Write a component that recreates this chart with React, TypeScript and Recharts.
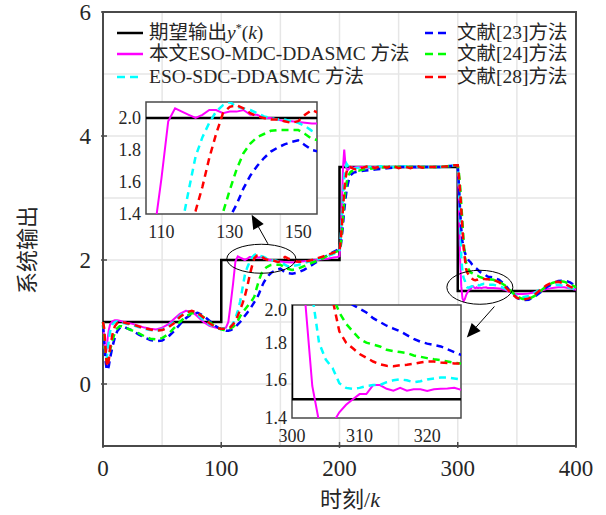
import React from 'react';
import { LineChart, Line, XAxis, YAxis, CartesianGrid, ReferenceArea, ReferenceDot, ReferenceLine } from 'recharts';

// sample instants k
const kSteps = [
  0, 1, 2, 3, 4, 5, 6, 8, 10, 12, 14, 16, 18, 20, 25, 30, 35, 40, 45, 50, 55, 60, 65, 70, 75, 80, 85, 90, 95, 98, 100,
  102, 104, 106, 108, 110, 112, 114, 116, 118, 120, 122, 124, 126, 128, 130, 132, 134, 136, 138, 140, 142, 144, 146, 148, 150, 152, 154, 156,
  160, 165, 170, 175, 180, 185, 190, 195, 198, 200,
  201, 202, 203, 204, 205, 206, 207, 208, 209, 210, 212, 214, 216, 218, 220, 225, 230, 235, 240, 245, 250, 255, 260, 265, 270, 275, 280, 285, 290, 295, 298, 300,
  301, 302, 303, 304, 305, 306, 307, 308, 309, 310, 311, 312, 313, 314, 315, 316, 317, 318, 319, 320, 321, 322, 323, 324, 325, 326,
  330, 335, 340, 345, 350, 355, 360, 365, 370, 375, 380, 385, 390, 395, 400,
];

// desired output y*(k), piecewise constant
const desiredK = [0, 100, 200, 300, 400];
const desiredY = [1, 2, 3.5, 1.5, 1.5];

// 本文 ESO-MDC-DDASMC
const mdcOut = [
  1.0, 0.75, 0.45, 0.55, 0.75, 0.88, 0.96, 1.01, 1.03, 1.03, 1.02, 1.01, 1.0, 0.99, 0.97, 0.94, 0.91, 0.89, 0.88, 0.91, 0.96, 1.05, 1.13, 1.18, 1.17, 1.09, 1.0, 0.94, 0.91, 0.9, 0.9,
  0.9, 0.91, 1.0, 1.3, 1.62, 1.98, 2.06, 2.04, 2.02, 2.0, 2.02, 2.05, 2.05, 2.03, 2.04, 2.04, 2.05, 2.02, 2.02, 2.0, 2.0, 1.99, 1.98, 1.98, 1.975, 1.97, 1.965, 1.965,
  1.96, 1.97, 1.98, 1.99, 2.0, 2.01, 2.02, 2.04, 2.05, 2.06,
  2.3, 2.9, 3.5, 3.78, 3.55, 3.47, 3.45, 3.47, 3.5, 3.5, 3.49, 3.5, 3.5, 3.5, 3.5, 3.49, 3.5, 3.5, 3.5, 3.5, 3.5, 3.5, 3.5, 3.49, 3.5, 3.5, 3.5, 3.5, 3.51, 3.52, 3.53, 3.52,
  2.9, 2.0, 1.57, 1.38, 1.34, 1.37, 1.43, 1.47, 1.5, 1.527, 1.527, 1.575, 1.575, 1.555, 1.545, 1.56, 1.545, 1.553, 1.553, 1.544, 1.553, 1.555, 1.557, 1.56, 1.55, 1.55,
  1.55, 1.54, 1.52, 1.48, 1.45, 1.45, 1.46, 1.48, 1.5, 1.53, 1.55, 1.56, 1.56, 1.54, 1.52,
];

// ESO-SDC-DDASMC
const sdcOut = [
  1.0, 0.8, 0.5, 0.4, 0.55, 0.72, 0.85, 0.96, 1.0, 1.01, 1.0, 0.99, 0.98, 0.97, 0.95, 0.92, 0.89, 0.87, 0.86, 0.88, 0.93, 1.0, 1.1, 1.16, 1.17, 1.12, 1.03, 0.96, 0.92, 0.9, 0.9,
  0.9, 0.9, 0.91, 0.93, 0.98, 1.06, 1.18, 1.33, 1.55, 1.76, 1.88, 1.97, 2.04, 2.08, 2.1, 2.07, 2.06, 2.05, 2.03, 2.01, 2.0, 1.99, 1.99, 1.98, 1.97, 1.95, 1.92, 1.9,
  1.9, 1.92, 1.95, 1.98, 2.0, 2.03, 2.06, 2.1, 2.12, 2.14,
  2.35, 2.7, 3.05, 3.32, 3.48, 3.55, 3.52, 3.5, 3.48, 3.47, 3.47, 3.48, 3.49, 3.5, 3.5, 3.5, 3.5, 3.51, 3.5, 3.5, 3.5, 3.51, 3.5, 3.5, 3.5, 3.5, 3.5, 3.5, 3.51, 3.52, 3.53, 3.53,
  3.2, 2.6, 2.05, 1.8, 1.71, 1.665, 1.585, 1.56, 1.555, 1.56, 1.57, 1.575, 1.575, 1.59, 1.6, 1.605, 1.6, 1.59, 1.595, 1.605, 1.61, 1.615, 1.615, 1.61, 1.605, 1.6,
  1.6, 1.58, 1.54, 1.48, 1.42, 1.4, 1.42, 1.47, 1.53, 1.57, 1.59, 1.6, 1.58, 1.55, 1.52,
];

// 文献[23]
const ref23Out = [
  0.95, 0.7, 0.4, 0.25, 0.22, 0.3, 0.42, 0.6, 0.75, 0.85, 0.9, 0.92, 0.92, 0.9, 0.86, 0.8, 0.75, 0.71, 0.69, 0.7, 0.76, 0.85, 0.96, 1.06, 1.13, 1.15, 1.1, 1.02, 0.94, 0.9, 0.88,
  0.87, 0.86, 0.86, 0.87, 0.89, 0.92, 0.96, 1.0, 1.05, 1.1, 1.15, 1.2, 1.26, 1.32, 1.38, 1.46, 1.56, 1.64, 1.7, 1.75, 1.79, 1.815, 1.835, 1.85, 1.86, 1.83, 1.8, 1.79,
  1.78, 1.8, 1.84, 1.9, 1.96, 2.02, 2.08, 2.13, 2.16, 2.18,
  2.22, 2.38, 2.58, 2.8, 2.98, 3.12, 3.22, 3.3, 3.35, 3.38, 3.41, 3.42, 3.43, 3.43, 3.44, 3.45, 3.46, 3.47, 3.48, 3.49, 3.5, 3.5, 3.5, 3.5, 3.5, 3.5, 3.5, 3.5, 3.51, 3.52, 3.53, 3.53,
  3.2, 2.8, 2.5, 2.3, 2.2, 2.12, 2.07, 2.03, 2.0, 1.98, 1.96, 1.93, 1.91, 1.89, 1.875, 1.86, 1.84, 1.82, 1.805, 1.795, 1.788, 1.78, 1.765, 1.75, 1.735, 1.73,
  1.72, 1.68, 1.6, 1.48, 1.39, 1.35, 1.36, 1.41, 1.48, 1.56, 1.62, 1.66, 1.67, 1.64, 1.58,
];

// 文献[24]
const ref24Out = [
  1.0, 0.8, 0.5, 0.38, 0.38, 0.45, 0.55, 0.7, 0.83, 0.9, 0.93, 0.93, 0.92, 0.9, 0.86, 0.82, 0.77, 0.73, 0.72, 0.74, 0.8, 0.9, 1.0, 1.09, 1.14, 1.14, 1.08, 1.0, 0.93, 0.9, 0.88,
  0.87, 0.87, 0.88, 0.9, 0.92, 0.96, 1.02, 1.09, 1.15, 1.2, 1.25, 1.3, 1.35, 1.41, 1.55, 1.68, 1.78, 1.84, 1.88, 1.9, 1.92, 1.925, 1.925, 1.925, 1.925, 1.9, 1.87, 1.86,
  1.84, 1.86, 1.9, 1.94, 1.98, 2.02, 2.07, 2.12, 2.14, 2.16,
  2.25, 2.45, 2.7, 2.95, 3.12, 3.25, 3.33, 3.38, 3.41, 3.43, 3.44, 3.44, 3.44, 3.45, 3.46, 3.47, 3.48, 3.49, 3.5, 3.5, 3.5, 3.5, 3.5, 3.5, 3.5, 3.5, 3.5, 3.5, 3.51, 3.52, 3.53, 3.53,
  3.4, 3.2, 2.9, 2.6, 2.3, 2.05, 1.96, 1.9, 1.86, 1.82, 1.8, 1.79, 1.78, 1.762, 1.755, 1.75, 1.745, 1.732, 1.725, 1.718, 1.712, 1.707, 1.7, 1.693, 1.69, 1.688,
  1.68, 1.65, 1.59, 1.5, 1.41, 1.37, 1.37, 1.42, 1.5, 1.58, 1.63, 1.66, 1.65, 1.61, 1.56,
];

// 文献[28]
const ref28Out = [
  1.0, 0.9, 0.6, 0.35, 0.28, 0.4, 0.58, 0.8, 0.93, 0.98, 1.0, 1.0, 0.99, 0.98, 0.96, 0.93, 0.9, 0.88, 0.86, 0.87, 0.91, 0.98, 1.08, 1.15, 1.18, 1.15, 1.07, 0.98, 0.92, 0.9, 0.89,
  0.89, 0.89, 0.9, 0.92, 0.96, 1.02, 1.1, 1.2, 1.3, 1.42, 1.57, 1.75, 1.9, 2.03, 2.07, 2.08, 2.06, 2.03, 2.01, 2.0, 1.99, 1.99, 1.98, 1.97, 1.98, 2.02, 2.05, 2.03,
  2.0, 1.97, 1.97, 1.99, 2.02, 2.05, 2.08, 2.12, 2.14, 2.16,
  2.3, 2.55, 2.85, 3.1, 3.3, 3.42, 3.48, 3.5, 3.5, 3.49, 3.47, 3.46, 3.47, 3.48, 3.49, 3.52, 3.48, 3.52, 3.49, 3.52, 3.48, 3.51, 3.48, 3.52, 3.49, 3.5, 3.5, 3.5, 3.51, 3.52, 3.53, 3.53,
  3.35, 3.1, 2.8, 2.5, 2.2, 2.03, 1.86, 1.8, 1.77, 1.74, 1.72, 1.7, 1.685, 1.677, 1.675, 1.68, 1.683, 1.688, 1.695, 1.7, 1.7, 1.695, 1.692, 1.69, 1.69, 1.69,
  1.68, 1.64, 1.57, 1.47, 1.39, 1.36, 1.38, 1.44, 1.52, 1.59, 1.64, 1.65, 1.62, 1.57, 1.53,
];

const xTicks = [0, 100, 200, 300, 400];
const yTicks = [0, 2, 4, 6];
const xGrid = [0, 50, 100, 150, 200, 250, 300, 350, 400];
const yGrid = [-1, 0, 1, 2, 3, 4, 5, 6];

const rows = kSteps.map((k, i) => ({
  k,
  mdc: mdcOut[i],
  sdc: sdcOut[i],
  r23: ref23Out[i],
  r24: ref24Out[i],
  r28: ref28Out[i],
}));
const desiredRows = desiredK.map((k, i) => ({ k, yd: desiredY[i] }));

const FONT = '"Liberation Serif", "Times New Roman", "Noto Sans CJK SC", serif';
const TXT = '#262626';
const FRAME = '#4a4a4a';
const DASH = '7 5';

const series = [
  { key: 'mdc', color: '#ff00ff', dash: undefined, width: 2 },
  { key: 'sdc', color: '#00ffff', dash: DASH, width: 2.5 },
  { key: 'r23', color: '#0000ff', dash: DASH, width: 2.5 },
  { key: 'r24', color: '#00ff00', dash: DASH, width: 2.5 },
  { key: 'r28', color: '#ff0000', dash: DASH, width: 2.5 },
];

const MainXTick = ({ x, y, payload }: any) => (
  <g>
    <line x1={x} y1={y} x2={x} y2={y - 6} stroke={FRAME} strokeWidth={1.5} />
    <text x={x} y={y + 28} textAnchor="middle" fill={TXT} style={{ fontFamily: FONT, fontSize: 23 }}>
      {payload.value}
    </text>
  </g>
);

const MainYTick = ({ x, y, payload }: any) => (
  <g>
    <line x1={x} y1={y} x2={x + 6} y2={y} stroke={FRAME} strokeWidth={1.5} />
    <text x={x - 10} y={y + 8} textAnchor="end" fill={TXT} style={{ fontFamily: FONT, fontSize: 23 }}>
      {payload.value}
    </text>
  </g>
);

const ellipseShape = (rx: number, ry: number) => (p: any) => (
  <ellipse cx={p.cx} cy={p.cy} rx={rx} ry={ry} fill="none" stroke="#000" strokeWidth={1} />
);

const ArrowShape = (p: any) => {
  const { x1, y1, x2, y2 } = p;
  const a = Math.atan2(y2 - y1, x2 - x1);
  const L = 14;
  const W = 6;
  const bx = x2 - L * Math.cos(a);
  const by = y2 - L * Math.sin(a);
  const nx = -Math.sin(a) * W;
  const ny = Math.cos(a) * W;
  return (
    <g>
      <line x1={x1} y1={y1} x2={bx} y2={by} stroke="#000" strokeWidth={1} />
      <polygon points={`${x2},${y2} ${bx + nx},${by + ny} ${bx - nx},${by - ny}`} fill="#000" />
    </g>
  );
};

interface InsetProps {
  left: number;
  top: number;
  width: number;
  height: number;
  xDomain: [number, number];
  yDomain: [number, number];
  xTickVals: number[];
  yTickVals: number[];
}

const InsetChart: React.FC<InsetProps> = ({ left, top, width, height, xDomain, yDomain, xTickVals, yTickVals }) => {
  const yw = 50;
  const xh = 30;
  const pad = 4;
  return (
    <div style={{ position: 'absolute', left: left - yw, top: top - pad, width: yw + width + pad, height: pad + height + xh }}>
      <div style={{ position: 'absolute', left: yw, top: pad, width, height, background: '#fff' }} />
      <div style={{ position: 'absolute', left: 0, top: 0 }}>
        <LineChart width={yw + width + pad} height={pad + height + xh} data={rows} margin={{ top: pad, right: pad, bottom: 0, left: 0 }}>
          <XAxis
            dataKey="k"
            type="number"
            domain={xDomain}
            ticks={xTickVals}
            allowDataOverflow
            axisLine={false}
            tickLine={false}
            tickSize={0}
            height={xh}
            tick={({ x, y, payload }: any) => (
              <text x={x} y={y + 22} textAnchor="middle" fill={TXT} style={{ fontFamily: FONT, fontSize: 18 }}>
                {payload.value}
              </text>
            )}
          />
          <YAxis
            type="number"
            domain={yDomain}
            ticks={yTickVals}
            allowDataOverflow
            axisLine={false}
            tickLine={false}
            tickSize={0}
            width={yw}
            tick={({ x, y, payload }: any) => (
              <text x={x - 3} y={y + 6} textAnchor="end" fill={TXT} style={{ fontFamily: FONT, fontSize: 18 }}>
                {Number(payload.value).toFixed(1)}
              </text>
            )}
          />
          <Line data={desiredRows} dataKey="yd" type="stepAfter" stroke="#000" strokeWidth={2.5} dot={false} isAnimationActive={false} />
          {series.map((s) => (
            <Line
              key={s.key}
              dataKey={s.key}
              type="linear"
              stroke={s.color}
              strokeWidth={s.width}
              strokeDasharray={s.dash}
              dot={false}
              isAnimationActive={false}
            />
          ))}
          <ReferenceArea x1={xDomain[0]} x2={xDomain[1]} y1={yDomain[0]} y2={yDomain[1]} fill="none" stroke={FRAME} strokeWidth={1.5} ifOverflow="visible" />
        </LineChart>
      </div>
    </div>
  );
};

const legendItems = [
  { col: 0, row: 0, color: '#000', dashed: false, label: <>期望输出<i>y</i><sup style={{ fontSize: 12, lineHeight: 0 }}>*</sup>(<i>k</i>)</> },
  { col: 0, row: 1, color: '#ff00ff', dashed: false, label: <>本文ESO-MDC-DDASMC 方法</> },
  { col: 0, row: 2, color: '#00ffff', dashed: true, label: <>ESO-SDC-DDASMC 方法</> },
  { col: 1, row: 0, color: '#0000ff', dashed: true, label: <>文献[23]方法</> },
  { col: 1, row: 1, color: '#00ff00', dashed: true, label: <>文献[24]方法</> },
  { col: 1, row: 2, color: '#ff0000', dashed: true, label: <>文献[28]方法</> },
];
const legendRowY = [33, 54, 77];
const legendColX = [117, 425];

export default function App() {
  return (
    <div style={{ position: 'absolute', left: 0, top: 0, width: 606, height: 515, background: '#fff', fontFamily: FONT }}>
      <LineChart width={606} height={515} data={rows} margin={{ top: 12, right: 30, bottom: 39, left: 0 }}>
        <CartesianGrid horizontalValues={yGrid} verticalValues={xGrid} stroke="#e6e6e6" strokeWidth={1.5} />
        <XAxis
          dataKey="k"
          type="number"
          domain={[0, 400]}
          ticks={xTicks}
          axisLine={false}
          tickLine={false}
          tickSize={0}
          height={30}
          tick={<MainXTick />}
        />
        <YAxis
          type="number"
          domain={[-1, 6]}
          ticks={yTicks}
          axisLine={false}
          tickLine={false}
          tickSize={0}
          width={103}
          tick={<MainYTick />}
        />
        <Line data={desiredRows} dataKey="yd" type="stepAfter" stroke="#000" strokeWidth={2.5} dot={false} isAnimationActive={false} />
        {series.map((s) => (
          <Line
            key={s.key}
            dataKey={s.key}
            type="linear"
            stroke={s.color}
            strokeWidth={s.width}
            strokeDasharray={s.dash}
            dot={false}
            isAnimationActive={false}
          />
        ))}
        <ReferenceArea x1={0} x2={400} y1={-1} y2={6} fill="none" stroke={FRAME} strokeWidth={2} ifOverflow="visible" />
        <ReferenceDot x={133.9} y={2.02} ifOverflow="visible" shape={ellipseShape(34.5, 14.5)} />
        <ReferenceDot x={318.7} y={1.56} ifOverflow="visible" shape={ellipseShape(33, 17)} />
        <ReferenceLine segment={[{ x: 139.5, y: 2.26 }, { x: 125.7, y: 2.73 }]} shape={ArrowShape} ifOverflow="visible" />
        <ReferenceLine segment={[{ x: 331, y: 1.25 }, { x: 307.7, y: 0.75 }]} shape={ArrowShape} ifOverflow="visible" />
      </LineChart>

      <InsetChart left={146} top={102} width={171} height={112} xDomain={[105.5, 155.5]} yDomain={[1.4, 2.1]} xTickVals={[110, 130, 150]} yTickVals={[1.4, 1.6, 1.8, 2.0]} />
      <InsetChart left={292} top={305} width={169} height={113} xDomain={[300, 325]} yDomain={[1.4, 2.0]} xTickVals={[300, 310, 320]} yTickVals={[1.4, 1.6, 1.8, 2.0]} />

      {legendItems.map((it, i) => (
        <div key={i} style={{ position: 'absolute', left: legendColX[it.col], top: legendRowY[it.row] - 10, height: 20, display: 'flex', alignItems: 'center', whiteSpace: 'nowrap' }}>
          <svg width={26} height={6} style={{ marginRight: 6 }}>
            <line x1={0} y1={3} x2={26} y2={3} stroke={it.color} strokeWidth={2.5} strokeDasharray={it.dashed ? '8 5' : undefined} />
          </svg>
          <span style={{ fontSize: 19.5, color: TXT, lineHeight: '20px' }}>{it.label}</span>
        </div>
      ))}

      <div style={{ position: 'absolute', left: 350, top: 497, transform: 'translate(-50%, -50%)', fontSize: 22, color: TXT, whiteSpace: 'nowrap' }}>
        时刻/<i>k</i>
      </div>
      <div style={{ position: 'absolute', left: 25, top: 250, transform: 'translate(-50%, -50%) rotate(-90deg)', fontSize: 22, color: TXT, whiteSpace: 'nowrap' }}>
        系统输出
      </div>
    </div>
  );
}
